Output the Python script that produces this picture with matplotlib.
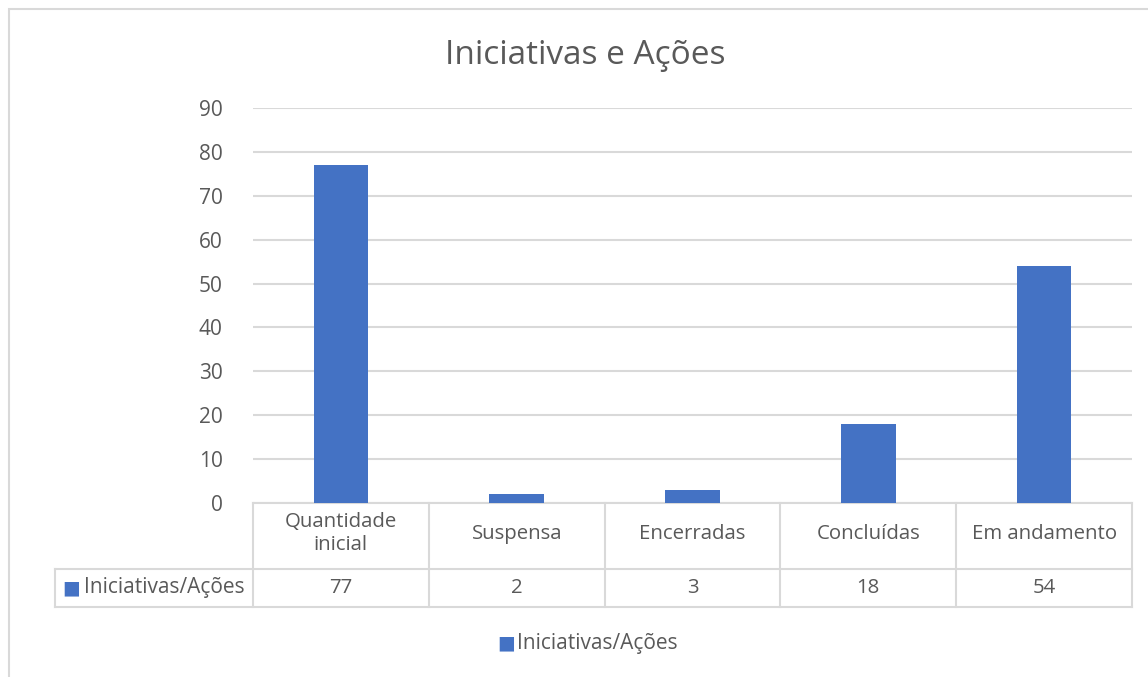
import matplotlib.pyplot as plt
from matplotlib.patches import Rectangle
import matplotlib.transforms as mtransforms

plt.rcParams["font.family"] = ["Open Sans", "DejaVu Sans"]

categories = ["Quantidade\ninicial", "Suspensa", "Encerradas", "Concluídas", "Em andamento"]
values = [77, 2, 3, 18, 54]
series_name = "Iniciativas/Ações"
title = "Iniciativas e Ações"
yticks = [0, 10, 20, 30, 40, 50, 60, 70, 80, 90]

bar_color = "#4472C4"
grid_color = "#D9D9D9"
text_color = "#595959"

W, H = 1148, 677
fig = plt.figure(figsize=(W / 100, H / 100), dpi=100)

# chart frame (runs past the right and bottom edge of the picture)
fig.patches.append(Rectangle((9 / W, -0.1), 1.2, 1 - 9 / H + 0.1, transform=fig.transFigure,
                             fill=False, edgecolor=grid_color, linewidth=1.5))

left, right, top, bottom = 253, 1132, 108, 503
ax = fig.add_axes([left / W, 1 - bottom / H, (right - left) / W, (bottom - top) / H])

x = list(range(len(categories)))
ax.bar(x, values, width=0.31, color=bar_color, zorder=3)
ax.set_xlim(-0.5, len(categories) - 0.5)
ax.set_ylim(0, 90)
ax.set_yticks(yticks)
ax.set_yticklabels([str(t) for t in yticks], fontsize=15, color=text_color)
ax.tick_params(axis="y", length=0, pad=22)
ax.set_xticks([])
ax.grid(axis="y", color=grid_color, linewidth=1.5, zorder=0)
for s in ax.spines.values():
    s.set_visible(False)

fig.text(585 / W, 1 - 55 / H, title, ha="center", va="center", fontsize=24, color=text_color)

# data table under the plot
trans = mtransforms.blended_transform_factory(ax.transData, ax.transAxes)
ax_h = bottom - top
row1 = -(569 - bottom) / ax_h
row2 = -(607 - bottom) / ax_h
xl = -0.5 - (left - 55) / ((right - left) / len(categories))
lk = dict(color=grid_color, linewidth=1.5, clip_on=False, transform=trans)
ax.plot([-0.5, len(categories) - 0.5], [0, 0], **lk)
ax.plot([xl, len(categories) - 0.5], [row1, row1], **lk)
ax.plot([xl, len(categories) - 0.5], [row2, row2], **lk)
ax.plot([xl, xl], [row1, row2], **lk)
for b in range(len(categories) + 1):
    ax.plot([b - 0.5, b - 0.5], [0, row2], **lk)

for i, (c, v) in enumerate(zip(categories, values)):
    ax.text(i, row1 / 2 + 0.006, c, transform=trans, ha="center", va="center",
            fontsize=14.7, color=text_color, linespacing=1.2)
    ax.text(i, (row1 + row2) / 2, str(v), transform=trans, ha="center", va="center",
            fontsize=14.7, color=text_color)

ax.text(xl + 0.04, (row1 + row2) / 2, "\u25A0", transform=trans, ha="left", va="center",
        fontsize=13.5, color=bar_color)
ax.text(xl + 0.165, (row1 + row2) / 2, series_name, transform=trans, ha="left", va="center",
        fontsize=15, color=text_color)

# legend
fig.text(497 / W, 1 - 643 / H, "\u25A0", ha="left", va="center", fontsize=13.5, color=bar_color)
fig.text(517 / W, 1 - 643 / H, series_name, ha="left", va="center", fontsize=15,
         color=text_color)

fig.savefig("out.png", dpi=100)
